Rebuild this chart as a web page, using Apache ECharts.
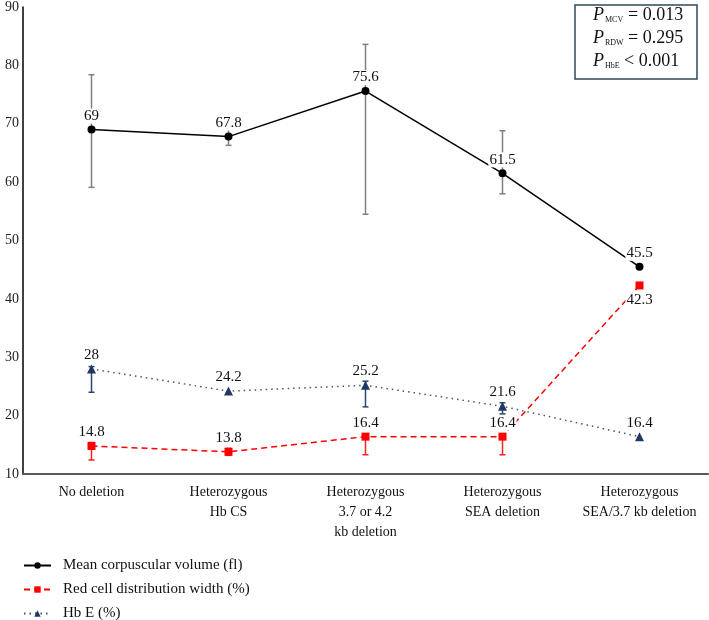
<!DOCTYPE html>
<html><head><meta charset="utf-8">
<script src="https://cdn.jsdelivr.net/npm/echarts@6/dist/echarts.min.js"></script>
<style>html,body{margin:0;padding:0;background:#fff}#c{width:709px;height:620px}</style>
</head><body><div id="c"></div>
<script>
var categories = ['No deletion', 'Heterozygous\nHb CS', 'Heterozygous\n3.7 or 4.2\nkb deletion', 'Heterozygous\nSEA deletion', 'Heterozygous\nSEA/3.7 kb deletion'];
var mcv = [69, 67.8, 75.6, 61.5, 45.5];
var rdw = [14.8, 13.8, 16.4, 16.4, 42.3];
var hbe = [28, 24.2, 25.2, 21.6, 16.4];
var mcvLow = [59.1, 66.3, 54.5, 58.0, null];
var mcvHigh = [78.4, 69.3, 83.6, 68.8, null];
var rdwLow = [12.4, 13.2, 13.3, 13.3, null];
var rdwHigh = [15.4, 14.4, 16.4, 16.4, null];
var hbeLow = [24.0, null, 21.5, 20.3, null];
var hbeHigh = [28.4, null, 25.9, 22.2, null];
var yTicks = {min: 10, max: 90, step: 10};
var pRows = [['MCV', '= 0.013'], ['RDW', '= 0.295'], ['HbE', '< 0.001']];

var FONT = 'Liberation Serif';

function errData(lo, hi) {
  var out = [];
  for (var i = 0; i < lo.length; i++) if (lo[i] != null) out.push([i, lo[i], hi[i]]);
  return out;
}
function errSeries(name, lo, hi, color) {
  return {
    type: 'custom', name: name, z: 1, silent: true,
    encode: {x: 0, y: [1, 2]},
    data: errData(lo, hi),
    renderItem: function (params, api) {
      var x = api.value(0);
      var a = api.coord([x, api.value(1)]);
      var b = api.coord([x, api.value(2)]);
      var w = 3, st = {stroke: color, lineWidth: 1.5};
      return {type: 'group', children: [
        {type: 'line', shape: {x1: a[0], y1: a[1], x2: b[0], y2: b[1]}, style: st},
        {type: 'line', shape: {x1: a[0] - w, y1: a[1], x2: a[0] + w, y2: a[1]}, style: st},
        {type: 'line', shape: {x1: b[0] - w, y1: b[1], x2: b[0] + w, y2: b[1]}, style: st}
      ]};
    }
  };
}
function lbl(pos, dist) {
  return {show: true, position: pos || 'top', distance: dist == null ? 2 : dist,
    fontFamily: FONT, fontSize: 15, color: '#111', backgroundColor: '#fff', padding: [0, 1]};
}

var graphics = [{type: 'rect', shape: {x: 575, y: 5, width: 122, height: 74},
  style: {fill: '#fff', stroke: '#2f4858', lineWidth: 1.5}, z: 10}];
pRows.forEach(function (r, i) {
  var y = 15 + i * 23;
  graphics.push({type: 'text', x: 593, y: y, z: 11, style: {text: 'P', font: 'italic 18px "Liberation Serif"', fill: '#111', verticalAlign: 'middle'}});
  graphics.push({type: 'text', x: 605, y: y + 5, z: 11, style: {text: r[0], font: '8px "Liberation Serif"', fill: '#111', verticalAlign: 'middle'}});
  graphics.push({type: 'text', x: r[0] === 'HbE' ? 624 : 628, y: y, z: 11, style: {text: r[1], font: '18px "Liberation Serif"', fill: '#111', verticalAlign: 'middle'}});
});

var chart = echarts.init(document.getElementById('c'));
chart.setOption({
  animation: false,
  grid: {left: 23, right: 1, top: 7, bottom: 146, containLabel: false},
  legend: {
    orient: 'vertical', left: 23, top: 557, height: 80, padding: 0,
    itemWidth: 27, itemHeight: 8, itemGap: 7,
    data: ['Mean corpuscular volume (fl)', 'Red cell distribution width (%)', 'Hb E (%)'],
    textStyle: {fontFamily: FONT, fontSize: 15, color: '#111', lineHeight: 17, padding: [0, 0, 0, 7]}
  },
  xAxis: {
    type: 'category', data: categories,
    axisLine: {lineStyle: {color: '#595959', width: 2}},
    axisTick: {show: false},
    axisLabel: {interval: 0, fontFamily: FONT, fontSize: 14, color: '#111', lineHeight: 20, margin: 8}
  },
  yAxis: {
    type: 'value', min: yTicks.min, max: yTicks.max, interval: yTicks.step,
    splitLine: {show: false},
    axisLine: {show: true, lineStyle: {color: '#000', width: 1.5}},
    axisTick: {show: false},
    axisLabel: {fontFamily: FONT, fontSize: 14, color: '#222', margin: 4}
  },
  graphic: graphics,
  series: [
    errSeries('mcvErr', mcvLow, mcvHigh, '#808080'),
    errSeries('rdwErr', rdwLow, rdwHigh, '#ff2020'),
    errSeries('hbeErr', hbeLow, hbeHigh, '#2a4670'),
    {
      name: 'Mean corpuscular volume (fl)', type: 'line', data: mcv, z: 3,
      symbol: 'circle', symbolSize: 8,
      itemStyle: {color: '#000'}, lineStyle: {color: '#000', width: 1.5},
      label: lbl('top')
    },
    {
      name: 'Red cell distribution width (%)', type: 'line', z: 3,
      data: rdw.map(function (v, i) {
        return i === 4 ? {value: v, label: {position: 'bottom', distance: 3}} : v;
      }),
      symbol: 'rect', symbolSize: 8,
      itemStyle: {color: '#ff0000'}, lineStyle: {color: '#ff0000', width: 1.5, type: [6, 4]},
      label: lbl('top')
    },
    {
      name: 'Hb E (%)', type: 'line', data: hbe, z: 3,
      symbol: 'triangle', symbolSize: 9,
      itemStyle: {color: '#1f3864'}, lineStyle: {color: '#44546a', width: 1.5, type: [1.5, 4]},
      label: lbl('top')
    }
  ]
});
</script></body></html>
